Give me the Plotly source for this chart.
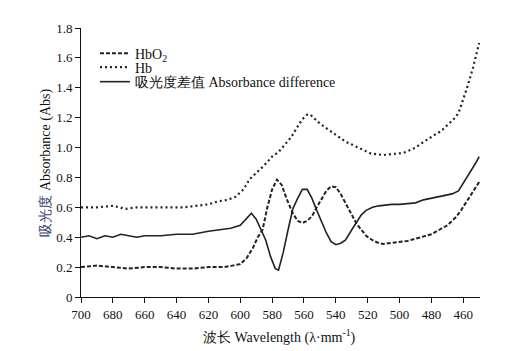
import plotly.graph_objects as go

# ---- data ----
hbo2_wl = [700, 690, 680, 670, 660, 650, 640, 630, 620, 610, 605, 600, 596, 592, 589, 586, 583, 580,
           577, 574, 571, 567, 564, 561, 558, 555, 552, 549, 546, 543, 540, 537, 534, 530, 527, 524,
           521, 517, 513, 510, 505, 500, 495, 490, 485, 480, 475, 470, 465, 462, 459, 456, 453, 450]
hbo2_abs = [0.20, 0.21, 0.20, 0.19, 0.20, 0.20, 0.19, 0.19, 0.20, 0.20, 0.21, 0.22, 0.26, 0.33, 0.40, 0.45, 0.60, 0.72,
            0.785, 0.75, 0.66, 0.56, 0.51, 0.495, 0.51, 0.54, 0.60, 0.66, 0.71, 0.74, 0.735, 0.69, 0.63, 0.54, 0.49, 0.45,
            0.41, 0.38, 0.36, 0.355, 0.36, 0.37, 0.375, 0.39, 0.405, 0.42, 0.45, 0.48, 0.53, 0.57, 0.62, 0.67, 0.72, 0.77]

hb_wl = [700, 690, 680, 672, 665, 655, 645, 635, 628, 620, 614, 608, 603, 598, 594, 590, 585, 580, 576, 572,
         568, 564, 561, 558, 556, 553, 550, 546, 542, 538, 534, 530, 526, 522, 518, 514, 510, 506, 502, 498,
         494, 490, 486, 482, 478, 474, 470, 466, 463, 460, 457, 454, 452, 450]
hb_abs = [0.60, 0.60, 0.61, 0.59, 0.60, 0.60, 0.60, 0.60, 0.61, 0.62, 0.64, 0.65, 0.67, 0.72, 0.79, 0.83, 0.88, 0.94, 0.97, 1.02,
          1.07, 1.14, 1.19, 1.22, 1.22, 1.19, 1.16, 1.13, 1.10, 1.07, 1.04, 1.02, 1.00, 0.98, 0.96, 0.955, 0.95, 0.955, 0.96, 0.963,
          0.98, 1.00, 1.03, 1.06, 1.085, 1.11, 1.15, 1.19, 1.23, 1.32, 1.42, 1.53, 1.61, 1.70]

diff_wl = [700, 695, 690, 685, 680, 675, 670, 665, 660, 650, 640, 630, 620, 612, 606, 600, 596, 593, 590, 587,
           584, 581, 578, 576, 573, 570, 567, 564, 561, 558, 555, 552, 549, 546, 543, 540, 537, 534, 530, 527,
           524, 521, 517, 513, 510, 505, 500, 495, 490, 485, 480, 477, 472, 467, 463, 460, 457, 455, 452, 450]
diff_abs = [0.40, 0.41, 0.39, 0.41, 0.40, 0.42, 0.41, 0.40, 0.41, 0.41, 0.42, 0.42, 0.44, 0.45, 0.46, 0.48, 0.53, 0.56, 0.52, 0.45,
            0.38, 0.27, 0.19, 0.18, 0.30, 0.45, 0.59, 0.66, 0.72, 0.72, 0.66, 0.58, 0.50, 0.43, 0.37, 0.35, 0.36, 0.38, 0.45, 0.50,
            0.55, 0.58, 0.60, 0.61, 0.615, 0.62, 0.62, 0.625, 0.63, 0.65, 0.66, 0.67, 0.68, 0.69, 0.71, 0.76, 0.81, 0.85, 0.90, 0.94]

x_ticks = [700, 680, 660, 640, 620, 600, 580, 560, 540, 520, 500, 480, 460]
y_ticks = [0, 0.2, 0.4, 0.6, 0.8, 1.0, 1.2, 1.4, 1.6, 1.8]
y_tick_text = ["0", "0.2", "0.4", "0.6", "0.8", "1.0", "1.2", "1.4", "1.6", "1.8"]

FONT = "Liberation Serif"
INK = "#222222"

fig = go.Figure()
fig.add_trace(go.Scatter(x=hbo2_wl, y=hbo2_abs, mode="lines", name="HbO<sub>2</sub>",
                         line=dict(color=INK, width=2, dash="4px,2px"), legend="legend"))
fig.add_trace(go.Scatter(x=hb_wl, y=hb_abs, mode="lines", name="Hb",
                         line=dict(color=INK, width=2.2, dash="2px,3px"), legend="legend2"))
fig.add_trace(go.Scatter(x=diff_wl, y=diff_abs, mode="lines", name="吸光度差值 Absorbance difference",
                         line=dict(color=INK, width=1.6), legend="legend3"))

leg_common = dict(x=0.035, xanchor="left", yanchor="middle", bgcolor="rgba(0,0,0,0)",
                  borderwidth=0, font=dict(family=FONT, size=14, color="#111"), itemwidth=30)

fig.update_layout(
    width=513, height=351,
    margin=dict(l=81, r=33, t=28, b=54),
    paper_bgcolor="white", plot_bgcolor="white",
    font=dict(family=FONT, size=13, color="#111"),
    showlegend=True,
    legend=dict(y=0.905, **leg_common),
    legend2=dict(y=0.853, **leg_common),
    legend3=dict(y=0.799, **leg_common),
    xaxis=dict(range=[700, 449.5], tickvals=x_ticks, showgrid=False, zeroline=False,
               showline=True, linecolor="#111", linewidth=1, ticks="outside", ticklen=5,
               tickcolor="#111", tickfont=dict(family=FONT, size=13, color="#111")),
    yaxis=dict(range=[0, 1.8], tickvals=y_ticks, ticktext=y_tick_text, showgrid=False, zeroline=False,
               showline=True, linecolor="#111", linewidth=1, ticks="outside", ticklen=5,
               tickcolor="#111", tickfont=dict(family=FONT, size=13, color="#111")),
    annotations=[
        dict(text="<span style='color:#34406b'>吸光度</span> Absorbance (Abs)", textangle=-90,
             xref="paper", yref="paper", x=-0.09, y=0.5, xanchor="center", yanchor="middle",
             showarrow=False, font=dict(family=FONT, size=14, color="#111")),
        dict(text="波长 Wavelength (λ·mm<sup>-1</sup>)",
             xref="paper", yref="paper", x=0.497, y=-0.147, xanchor="center", yanchor="middle",
             showarrow=False, font=dict(family=FONT, size=14, color="#111")),
    ],
)

fig.write_html("out.html")
